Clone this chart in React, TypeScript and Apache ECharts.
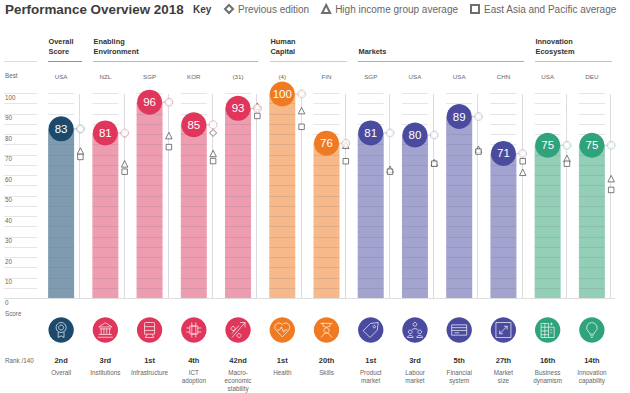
import React, { useEffect, useRef } from "react";
import * as echarts from "echarts";

const categories = ["Overall", "Institutions", "Infrastructure", "ICT\nadoption", "Macro-\neconomic\nstability", "Health", "Skills", "Product\nmarket", "Labour\nmarket", "Financial\nsystem", "Market\nsize", "Business\ndynamism", "Innovation\ncapability"];
const ranks = ["2nd", "3rd", "1st", "4th", "42nd", "1st", "20th", "1st", "3rd", "5th", "27th", "16th", "14th"];
const bestEconomy = ["USA", "NZL", "SGP", "KOR", "(31)", "(4)", "FIN", "SGP", "USA", "USA", "CHN", "USA", "DEU"];
const scores = [83, 81, 96, 85, 93, 100, 76, 81, 80, 89, 71, 75, 75];
const previousEdition = [83, 80.5, 96, 81, 93.5, 100, 76, 81, 80, 89, 71, 75, 75];
const highIncome = [72.2, 65.9, 79.7, 71, 94, 91.9, 75, 63.3, 66.5, 73, 61.8, 68.6, 58.7];
const eastAsia = [69.3, 62.1, 74.1, 67.3, 89.3, 84, 67.2, 62.1, 66, 71.9, 67.2, 66, 53.2];
const yTicksMinor = [0, 5, 10, 15, 20, 25, 30, 35, 40, 45, 50, 55, 60, 65, 70, 75, 80, 85, 90, 95, 100];
const pillarOfColumn = [0, 1, 1, 1, 1, 2, 2, 3, 3, 3, 3, 4, 4];
const darkColors = ["#1d4a6c", "#e0365b", "#ef7a22", "#4a4b9e", "#2fa37b"];
const barColors = ["#7f9bb0", "#ee9cb0", "#f7b88a", "#a3a3cf", "#93cfb6"];
const ringColors = ["#a5b5c2", "#e6a6b6", "#e9c3a6", "#c4c4d8", "#a9d8c5"];
const sections = [
  { lines: [], x1: 4, x2: 37, color: "#dddddd" },
  { lines: ["Overall", "Score"], x1: 48, x2: 82, color: "#7c97aa" },
  { lines: ["Enabling", "Environment"], x1: 93, x2: 258, color: "#e3a0b1" },
  { lines: ["Human", "Capital"], x1: 270, x2: 347, color: "#f2c39c" },
  { lines: ["Markets"], x1: 358, x2: 524, color: "#a9a9d0" },
  { lines: ["Innovation", "Ecosystem"], x1: 535, x2: 612, color: "#a0d3bf" },
];
const icons = [
  "M12 3a6 6 0 1 0 .01 0Z M12 6a3 3 0 1 0 .01 0Z M8.5 14v7l3.5-2 3.5 2v-7",
  "M5 9L12 4.5 19 9Z M6 11h12 M7.5 11v6 M10.5 11v6 M13.5 11v6 M16.5 11v6 M5 17h14 M4 20h16",
  "M7 3h10a1 1 0 0 1 1 1v13H6V4a1 1 0 0 1 1-1Z M6 8h12 M6 12.5h12 M9 17l-2 4 M15 17l2 4 M7 21h10",
  "M8 8h8v8H8Z M10 8h4v8h-4Z M10 4.5v3.5 M14 4.5v3.5 M10 16v3.5 M14 16v3.5 M4.5 10H8 M4.5 14H8 M16 10h3.5 M16 14h3.5",
  "M6 20L19 5 M14 5h5v5 M7 9a2 2 0 1 0 .01 0Z M13 16a2 2 0 1 0 .01 0Z M6 16l7-8",
  "M12 20.5L4.5 12.5a4.8 4.8 0 0 1 7.5-6 4.8 4.8 0 0 1 7.5 6Z M6 12.5h3l2-3.5 2.5 6 1.5-2.5h3",
  "M5 4.5h14 M8 4.5v3l4 1.5 4-1.5v-3 M12 9.5a3 3 0 1 0 .01 0Z M6 20.5l4-5h4l4 5 M8 4v-0.5",
  "M20 4l-8 1-7.5 7.5L11.5 19.5 19 12Z M16 7a1.3 1.3 0 1 0 .01 0Z",
  "M12 4a2 2 0 1 0 .01 0Z M9 12c0-2 6-2 6 0 M7 12a2 2 0 1 0 .01 0Z M4 20c0-3 6-3 6 0Z M17 12a2 2 0 1 0 .01 0Z M14 20c0-3 6-3 6 0Z",
  "M4 7h16v11H4Z M4 10h16 M4 13h16 M7 15.5h5",
  "M4 4h16v16H4Z M8 16l8-8 M12.5 8H16v3.5 M8 12.5V16h3.5",
  "M5 5h8v15H5Z M13 9h6v11h-6 M5 9h8 M5 13h8 M5 17h8 M9 5v15 M15 12h2 M15 15h2 M16 4v3 M14.5 5.5h3",
  "M12 3.5a6.3 6.3 0 0 0-3.7 11.4c.9.8 1.2 1.6 1.2 2.6h5c0-1 .3-1.8 1.2-2.6A6.3 6.3 0 0 0 12 3.5Z M10 19.5h4 M11 21.5h2",
];

const FONT = "'Liberation Sans', Arial, sans-serif";
const MARK_OFFSET = 19.3;
const MARK_STYLE = { color: "#ffffff", borderColor: "#4a4a4a", borderWidth: 0.9 };

function makeOption() {
  const graphic: any[] = [
    { type: "text", x: 5, y: 3, style: { text: "Performance Overview 2018", font: `bold 13.4px ${FONT}`, fill: "#3d3d3d" } },
    { type: "text", x: 193, y: 4, style: { text: "Key", font: `bold 10px ${FONT}`, fill: "#3d3d3d" } },
    { type: "text", x: 5, y: 72, style: { text: "Best", font: `6.3px ${FONT}`, fill: "#666666" } },
    { type: "text", x: 5, y: 310, style: { text: "Score", font: `6.3px ${FONT}`, fill: "#666666" } },
    { type: "text", x: 5, y: 357, style: { text: "Rank /140", font: `6.3px ${FONT}`, fill: "#666666" } },
  ];
  sections.forEach((s) => {
    graphic.push({ type: "line", shape: { x1: s.x1, y1: 61.5, x2: s.x2, y2: 61.5 }, style: { stroke: s.color, lineWidth: 1 } });
    const startY = s.lines.length === 1 ? 47.5 : 37.5;
    s.lines.forEach((t, i) => {
      graphic.push({ type: "text", x: s.x1 + 0.5, y: startY + i * 10, style: { text: t, font: `bold 7.4px ${FONT}`, fill: "#333333" } });
    });
  });

  const xLabel = (v: string, idx: number) => {
    const names = v.split("\n").map((n) => `{name|${n}}`).join("\n");
    return `{rank|${ranks[idx]}}\n${names}`;
  };

  return {
    animation: false,
    backgroundColor: "#ffffff",
    textStyle: { fontFamily: FONT },
    grid: { left: 39, right: 16, top: 94, bottom: 94 },
    legend: {
      top: 4,
      left: 224,
      width: 405,
      padding: 0,
      itemWidth: 8,
      itemHeight: 8,
      itemGap: 12,
      textStyle: { fontSize: 10, color: "#666666", fontFamily: FONT },
      data: ["Previous edition", "High income group average", "East Asia and Pacific average"],
    },
    graphic,
    xAxis: [
      {
        type: "category",
        position: "bottom",
        data: categories,
        axisLine: { show: false },
        axisTick: { show: false },
        axisLabel: {
          interval: 0,
          margin: 56,
          formatter: xLabel,
          rich: {
            rank: { fontSize: 7.5, fontWeight: "bold", color: "#333333", fontFamily: FONT, lineHeight: 13, padding: [0, 0, 3, 0] },
            name: { fontSize: 6.3, color: "#666666", fontFamily: FONT, lineHeight: 8 },
          },
        },
      },
      {
        type: "category",
        position: "top",
        data: bestEconomy,
        axisLine: { show: false },
        axisTick: { show: false },
        axisLabel: { interval: 0, margin: 15, fontSize: 6.2, color: "#666666", fontFamily: FONT },
      },
    ],
    yAxis: {
      type: "value",
      min: 0,
      max: 100,
      interval: 10,
      axisLine: { show: false },
      axisTick: { show: false },
      splitLine: { show: false },
      axisLabel: { align: "left", verticalAlign: "top", margin: 34, fontSize: 6.3, color: "#666666", fontFamily: FONT },
    },
    series: [
      {
        type: "bar",
        name: "Score bar",
        barWidth: 26,
        z: 1,
        data: scores.map((v, i) => ({ value: v, itemStyle: { color: barColors[pillarOfColumn[i]] } })),
      },
      {
        type: "custom",
        name: "Column rules",
        z: 2,
        silent: true,
        data: yTicksMinor.map((t) => [0, t]),
        encode: { x: 0, y: 1 },
        renderItem: (_: any, api: any) => {
          const t = api.value(1);
          const children: any[] = [];
          const stroke = "rgba(110,110,120,0.18)";
          const x0 = api.coord([0, t])[0];
          const y = Math.round(api.coord([0, t])[1]) - 0.5;
          if (t === 0) {
            children.push({ type: "line", shape: { x1: 4, y1: y, x2: 615, y2: y }, style: { stroke: "#dddddd", lineWidth: 1 } });
          } else {
            children.push({ type: "line", shape: { x1: x0 - 57, y1: y, x2: x0 - 24, y2: y }, style: { stroke, lineWidth: 1 } });
            categories.forEach((_c, i) => {
              const x = api.coord([i, t])[0];
              children.push({ type: "line", shape: { x1: x - 13, y1: y, x2: x + 13, y2: y }, style: { stroke, lineWidth: 1 } });
            });
          }
          return { type: "group", children };
        },
      },
      {
        type: "custom",
        name: "Marker stems",
        z: 3,
        silent: true,
        data: scores.map((v, i) => [i, v]),
        encode: { x: 0, y: 1 },
        renderItem: (_: any, api: any) => {
          const i = api.value(0);
          const top = api.coord([i, 100]);
          const bottom = api.coord([i, 0]);
          const pt = api.coord([i, api.value(1)]);
          const x = Math.round(top[0] + MARK_OFFSET) - 0.5;
          return {
            type: "group",
            children: [
              { type: "line", shape: { x1: x, y1: top[1], x2: x, y2: bottom[1] }, style: { stroke: "#dcdce0", lineWidth: 1 } },
              { type: "line", shape: { x1: pt[0] + 12, y1: pt[1], x2: x, y2: pt[1] }, style: { stroke: ringColors[pillarOfColumn[i]], lineWidth: 1 } },
            ],
          };
        },
      },
      {
        type: "scatter",
        name: "Previous edition",
        symbol: "diamond",
        symbolSize: 7,
        symbolOffset: [MARK_OFFSET, 0],
        itemStyle: MARK_STYLE,
        z: 4,
        data: previousEdition,
      },
      {
        type: "scatter",
        name: "High income group average",
        symbol: "triangle",
        symbolSize: 6.5,
        symbolOffset: [MARK_OFFSET, 0],
        itemStyle: MARK_STYLE,
        z: 4,
        data: highIncome,
      },
      {
        type: "scatter",
        name: "East Asia and Pacific average",
        symbol: "rect",
        symbolSize: 5.5,
        symbolOffset: [MARK_OFFSET, 0],
        itemStyle: MARK_STYLE,
        z: 5,
        data: eastAsia,
      },
      {
        type: "scatter",
        name: "Score ring",
        symbol: "circle",
        symbolSize: 8,
        symbolOffset: [MARK_OFFSET, 0],
        z: 6,
        data: scores.map((v, i) => ({
          value: v,
          itemStyle: { color: "#ffffff", borderColor: ringColors[pillarOfColumn[i]], borderWidth: 1 },
        })),
      },
      {
        type: "scatter",
        name: "Score",
        symbol: "circle",
        symbolSize: 25,
        z: 7,
        data: scores.map((v, i) => ({ value: v, itemStyle: { color: darkColors[pillarOfColumn[i]], opacity: 1 } })),
        label: { show: true, position: "inside", color: "#ffffff", fontSize: 11.5, fontFamily: FONT },
      },
      {
        type: "custom",
        name: "Pillar icons",
        z: 7,
        silent: true,
        data: scores.map((_v, i) => [i, 0]),
        encode: { x: 0, y: 1 },
        renderItem: (_: any, api: any) => {
          const i = api.value(0);
          const cx = api.coord([i, 0])[0];
          const cy = 330;
          const color = darkColors[pillarOfColumn[i]];
          return {
            type: "group",
            children: [
              { type: "circle", shape: { cx, cy, r: 12.7 }, style: { fill: color } },
              {
                type: "path",
                shape: { pathData: icons[i], x: cx - 7.5, y: cy - 7.5, width: 15, height: 15, layout: "center" },
                style: { fill: "none", stroke: "#ffffff", lineWidth: 0.8, opacity: 0.85 },
              },
            ],
          };
        },
      },
    ],
  };
}

export default function App() {
  const ref = useRef<HTMLDivElement>(null);
  useEffect(() => {
    const chart = echarts.init(ref.current!, undefined, { renderer: "svg" });
    chart.setOption(makeOption() as any);
    return () => chart.dispose();
  }, []);
  return <div ref={ref} style={{ position: "absolute", left: 0, top: 0, width: 630, height: 393 }} />;
}
